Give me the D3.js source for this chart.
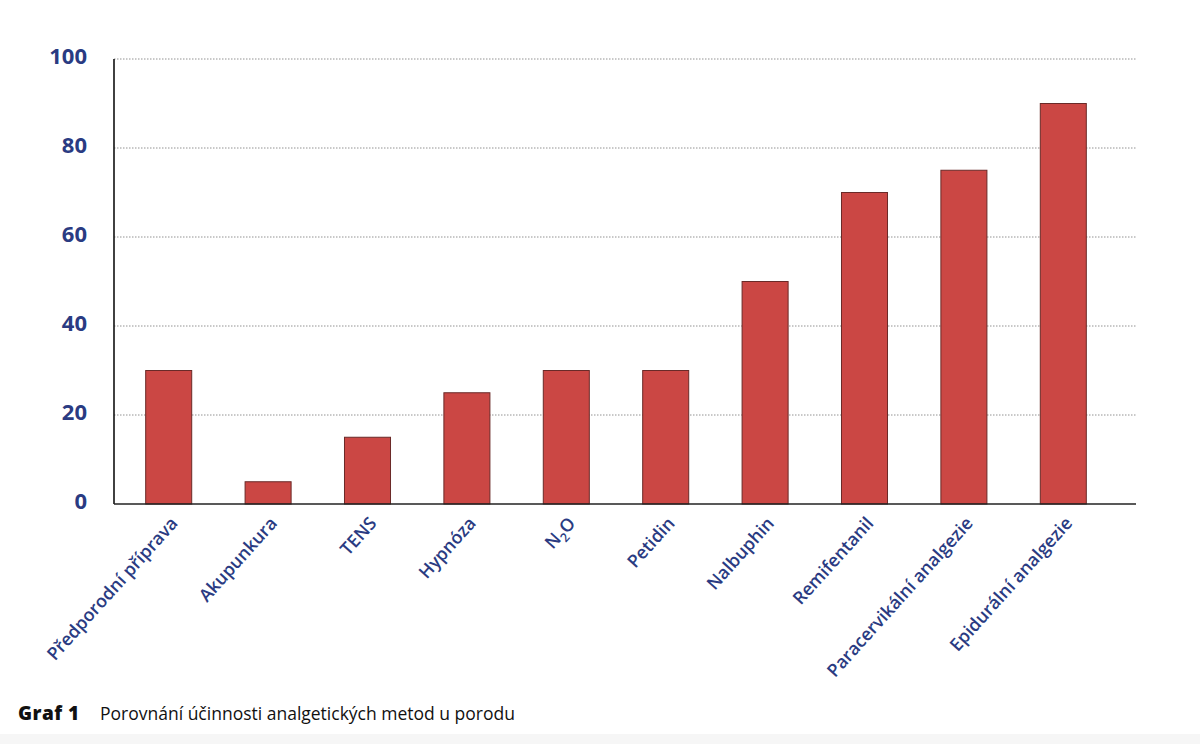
<!DOCTYPE html>
<html>
<head>
<meta charset="utf-8">
<script src="https://cdn.jsdelivr.net/npm/d3@7"></script>
<style>
  html, body { margin: 0; padding: 0; background: #fff; }
  svg { display: block; }
</style>
</head>
<body>
<div id="chart"></div>
<script>
// method names and effectiveness values
const methods = [
  "Předporodní příprava", "Akupunkura", "TENS", "Hypnóza", "N2O",
  "Petidin", "Nalbuphin", "Remifentanil", "Paracervikální analgezie", "Epidurální analgezie"
];
const values = [30, 5, 15, 25, 30, 30, 50, 70, 75, 90];
const yTicks = [0, 20, 40, 60, 80, 100];
const captionLabel = "Graf 1";
const captionText = "Porovnání účinnosti analgetických metod u porodu";

const W = 1200, H = 744;
const blue = "#2a3b82";

const svg = d3.select("#chart").append("svg")
  .attr("width", W)
  .attr("height", H);

// faint strip at the bottom of the page
svg.append("rect")
  .attr("x", 0).attr("y", 734)
  .attr("width", W).attr("height", H - 734)
  .attr("fill", "#f6f6f6");

const axisX = 114, axisRight = 1136;
const x = d3.scaleBand()
  .domain(methods)
  .range([119, 1113])
  .paddingInner(0.537)
  .paddingOuter(0.2685);

const y = d3.scaleLinear()
  .domain([0, 100])
  .range([504, 59]);

// dotted gridlines
svg.append("g")
  .selectAll("line")
  .data(yTicks.filter(d => d > 0))
  .join("line")
  .attr("x1", axisX).attr("x2", axisRight)
  .attr("y1", d => y(d)).attr("y2", d => y(d))
  .attr("stroke", "#777")
  .attr("stroke-width", 0.8)
  .attr("stroke-dasharray", "1.5,1.5");

// y tick labels
svg.append("g")
  .selectAll("text")
  .data(yTicks)
  .join("text")
  .attr("x", 87)
  .attr("y", d => y(d) + 4.5)
  .attr("text-anchor", "end")
  .attr("font-family", "'Open Sans', sans-serif")
  .attr("font-weight", 700)
  .attr("font-size", 22)
  .attr("fill", blue)
  .text(d => d);

// bars
svg.append("g")
  .selectAll("rect")
  .data(values)
  .join("rect")
  .attr("x", (d, i) => x(methods[i]))
  .attr("y", d => y(d))
  .attr("width", x.bandwidth())
  .attr("height", d => y(0) - y(d))
  .attr("fill", "#cb4744")
  .attr("stroke", "#6a2a28")
  .attr("stroke-width", 1);

// axis lines
svg.append("line")
  .attr("x1", axisX).attr("x2", axisX)
  .attr("y1", y(100)).attr("y2", y(0))
  .attr("stroke", "#111").attr("stroke-width", 1.6);
svg.append("line")
  .attr("x1", axisX).attr("x2", axisRight)
  .attr("y1", y(0)).attr("y2", y(0))
  .attr("stroke", "#222").attr("stroke-width", 1.6);

// rotated category labels
const labels = svg.append("g")
  .selectAll("text")
  .data(methods)
  .join("text")
  .attr("transform", d => `translate(${x(d) + x.bandwidth() / 2 + 10},${y(0) + 20}) rotate(-48)`)
  .attr("text-anchor", "end")
  .attr("font-family", "'Open Sans', sans-serif")
  .attr("font-weight", 600)
  .attr("font-size", 17.8)
  .attr("fill", blue);

labels.each(function(d) {
  const t = d3.select(this);
  if (d === "N2O") {
    t.append("tspan").text("N");
    t.append("tspan").attr("font-size", 12.5).attr("dy", 5).text("2");
    t.append("tspan").attr("dy", -5).text("O");
  } else {
    t.text(d);
  }
});

// caption
svg.append("text")
  .attr("x", 18).attr("y", 720)
  .attr("font-family", "'Open Sans', sans-serif")
  .attr("font-weight", 800)
  .attr("font-size", 19)
  .attr("letter-spacing", 0.5)
  .attr("fill", "#111")
  .text(captionLabel);
svg.append("text")
  .attr("x", 100).attr("y", 720)
  .attr("font-family", "'Open Sans', sans-serif")
  .attr("font-size", 17.5)
  .attr("fill", "#111")
  .text(captionText);
</script>
</body>
</html>
